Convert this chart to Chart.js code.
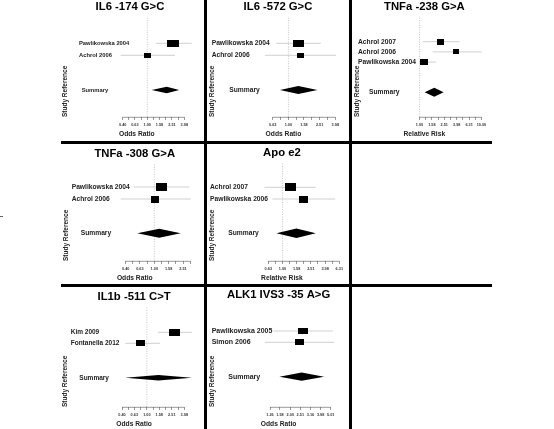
<!DOCTYPE html>
<html><head><meta charset="utf-8">
<script src="https://cdn.jsdelivr.net/npm/chart.js@4.4.1/dist/chart.umd.min.js"></script>
<style>
html,body{margin:0;padding:0;background:#fff;}
body{width:554px;height:429px;position:relative;overflow:hidden;}
canvas{position:absolute;}
.rule{position:absolute;background:#000;z-index:5;}
</style></head><body>
<div class="rule" style="left:203.5px;top:0;width:3px;height:429px"></div>
<div class="rule" style="left:348.5px;top:0;width:3px;height:429px"></div>
<div class="rule" style="left:61px;top:140.5px;width:431px;height:3px"></div>
<div class="rule" style="left:61px;top:284.2px;width:431px;height:3px"></div>
<div class="rule" style="left:0;top:215.5px;width:3px;height:1px;background:#666"></div>
<script>
// ---------- data ----------
const il6_174Studies = ['Pawlikowska 2004', 'Achrol 2006'];
const il6_174OR      = [2.64, 1.00];
const il6_174Lower   = [1.38, 0.37];
const il6_174Upper   = [5.24, 2.81];
const il6_174Weight  = [1.0, 0.57];
const il6_174Summary = [2.06, 1.18, 3.30]; // estimate, lower, upper
const il6_174Ticks   = ['0.40', '0.63', '1.00', '1.58', '2.51', '3.98'];

const il6_572Studies = ['Pawlikowska 2004', 'Achrol 2006'];
const il6_572OR      = [1.36, 1.41];
const il6_572Lower   = [0.70, 0.50];
const il6_572Upper   = [2.59, 4.07];
const il6_572Weight  = [1.0, 0.63];
const il6_572Summary = [1.34, 0.78, 2.35];
const il6_572Ticks   = ['0.63', '1.00', '1.58', '2.51', '3.98'];

const tnfa238Studies = ['Achrol 2007', 'Achrol 2006', 'Pawlikowska 2004'];
const tnfa238RR      = [2.19, 3.89, 1.16];
const tnfa238Lower   = [1.13, 1.63, 0.98];
const tnfa238Upper   = [4.40, 10.0, 1.86];
const tnfa238Weight  = [0.84, 0.69, 1.0];
const tnfa238Summary = [1.73, 1.21, 2.45];
const tnfa238Ticks   = ['1.00', '1.58', '2.51', '3.98', '6.31', '10.00'];

const tnfa308Studies = ['Pawlikowska 2004', 'Achrol 2006'];
const tnfa308OR      = [1.27, 1.02];
const tnfa308Lower   = [0.52, 0.34];
const tnfa308Upper   = [3.07, 3.21];
const tnfa308Weight  = [1.0, 0.78];
const tnfa308Summary = [1.17, 0.58, 2.33];
const tnfa308Ticks   = ['0.40', '0.63', '1.00', '1.58', '2.51'];

const apoe2Studies = ['Achrol 2007', 'Pawlikowska 2006'];
const apoe2RR      = [1.30, 2.00];
const apoe2Lower   = [0.56, 0.72];
const apoe2Upper   = [2.94, 5.52];
const apoe2Weight  = [1.0, 0.85];
const apoe2Summary = [1.57, 0.82, 2.94];
const apoe2Ticks   = ['0.63', '1.00', '1.58', '2.51', '3.98', '6.31'];

const il1bStudies = ['Kim 2009', 'Fontanella 2012'];
const il1bOR      = [2.76, 0.78];
const il1bLower   = [1.50, 0.45];
const il1bUpper   = [5.25, 1.63];
const il1bWeight  = [1.0, 0.82];
const il1bSummary = [1.53, 0.45, 5.25];
const il1bTicks   = ['0.40', '0.63', '1.00', '1.58', '2.51', '3.98'];

const alk1Studies = ['Pawlikowska 2005', 'Simon 2006'];
const alk1OR      = [2.69, 2.49];
const alk1Lower   = [1.38, 1.12];
const alk1Upper   = [5.25, 5.66];
const alk1Weight  = [1.0, 0.9];
const alk1Summary = [2.59, 1.56, 4.31];
const alk1Ticks   = ['1.26', '1.58', '2.00', '2.51', '3.16', '3.98', '5.01'];

// ---------- panel layout / styling ----------
const panels = [
  {title:'IL6 -174 G>C', xTitle:'Odds Ratio', studies:il6_174Studies, est:il6_174OR, lower:il6_174Lower, upper:il6_174Upper, weight:il6_174Weight, summary:il6_174Summary, ticks:il6_174Ticks,
   L:{left:61, top:0, width:138, height:138, fullTitle:true, labelSize:5.8, labelPad:3.4, sumPad:2.03, xAnchor:[0.40,122.7,3.98,184.3], rowFirst:43.3, rowStep:12, gap:2.89, boxW:11.7, boxH:6.7, diamondH:3.3, refLine:true, minor:true, tail:false}},
  {title:'IL6 -572 G>C', xTitle:'Odds Ratio', studies:il6_572Studies, est:il6_572OR, lower:il6_572Lower, upper:il6_572Upper, weight:il6_572Weight, summary:il6_572Summary, ticks:il6_572Ticks,
   L:{left:208, top:0, width:140, height:138, fullTitle:true, labelSize:6.7, labelPad:-1.37, sumPad:5.41, xAnchor:[0.63,272.7,3.98,335.3], rowFirst:43.3, rowStep:12, gap:2.89, boxW:10.7, boxH:6.7, diamondH:4, refLine:true, minor:true, tail:false}},
  {title:'TNFa -238 G>A', xTitle:'Relative Risk', studies:tnfa238Studies, est:tnfa238RR, lower:tnfa238Lower, upper:tnfa238Upper, weight:tnfa238Weight, summary:tnfa238Summary, ticks:tnfa238Ticks,
   L:{left:353, top:0, width:136, height:138, fullTitle:false, labelSize:6.7, labelPad:-0.93, sumPad:3.36, xAnchor:[1.00,419.3,10.0,481], rowFirst:41.7, rowStep:10.2, gap:2.96, boxW:8.3, boxH:6.3, diamondH:4.5, refLine:true, minor:true, tail:false}},
  {title:'TNFa -308 G>A', xTitle:'Odds Ratio', studies:tnfa308Studies, est:tnfa308OR, lower:tnfa308Lower, upper:tnfa308Upper, weight:tnfa308Weight, summary:tnfa308Summary, ticks:tnfa308Ticks,
   L:{left:62, top:147, width:135, height:135, fullTitle:false, labelSize:6.7, labelPad:0.63, sumPad:3.21, xAnchor:[0.40,125.7,1.00,154.3], rowFirst:187, rowStep:12, gap:2.86, boxW:10.7, boxH:7.7, diamondH:4.5, refLine:true, minor:true, tail:true}},
  {title:'Apo e2', xTitle:'Relative Risk', studies:apoe2Studies, est:apoe2RR, lower:apoe2Lower, upper:apoe2Upper, weight:apoe2Weight, summary:apoe2Summary, ticks:apoe2Ticks,
   L:{left:208, top:146, width:138, height:136, fullTitle:false, labelSize:6.7, labelPad:-1.93, sumPad:5.46, xAnchor:[0.63,268.3,6.31,339.3], rowFirst:187.3, rowStep:11.7, gap:2.93, boxW:11, boxH:7.7, diamondH:4.8, refLine:true, minor:true, tail:false}},
  {title:'IL1b -511 C>T', xTitle:'Odds Ratio', studies:il1bStudies, est:il1bOR, lower:il1bLower, upper:il1bUpper, weight:il1bWeight, summary:il1bSummary, ticks:il1bTicks,
   L:{left:61, top:290, width:136, height:138, fullTitle:false, labelSize:6.5, labelPad:0.63, sumPad:3.08, xAnchor:[0.40,122,3.98,184.3], rowFirst:332.3, rowStep:11, gap:3.13, boxW:11, boxH:7, diamondH:2.8, refLine:true, minor:true, tail:false}},
  {title:'ALK1 IVS3 -35 A>G', xTitle:'Odds Ratio', studies:alk1Studies, est:alk1OR, lower:alk1Lower, upper:alk1Upper, weight:alk1Weight, summary:alk1Summary, ticks:alk1Ticks,
   L:{left:208, top:288, width:131, height:140, fullTitle:false, labelSize:7, labelPad:-1.37, sumPad:5.08, xAnchor:[1.26,270,5.01,330.7], rowFirst:331, rowStep:11.3, gap:3.04, boxW:10.3, boxH:6, diamondH:4.2, refLine:false, minor:false, tail:false}}
];

Chart.defaults.font.family = '"Liberation Sans", Arial, Helvetica, sans-serif';
Chart.defaults.color = '#222';

function boxStyle(w, h) {
  const c = document.createElement('canvas');
  c.width = Math.max(2, Math.round(w));
  c.height = Math.max(2, Math.round(h));
  const g = c.getContext('2d');
  g.fillStyle = '#000';
  g.fillRect(0, 0, c.width, c.height);
  return c;
}

function buildTickList(labels, minor, tail) {
  const vals = labels.map(parseFloat);
  const list = [];
  vals.forEach((v, i) => {
    list.push({value: v, label: labels[i]});
    if (minor && i < vals.length - 1) list.push({value: Math.sqrt(v * vals[i + 1]), label: ''});
  });
  if (tail) {
    const n = vals.length;
    list.push({value: vals[n - 1] * Math.sqrt(vals[n - 1] / vals[n - 2]), label: ''});
  }
  return list;
}

// rows are counted downward from the top: study i sits at -(i+1), summary at -(n+gap)
function rowValue(k) { return -k; }

function makePlugin(p, tickList) {
  const L = p.L;
  return {
    id: 'forest',
    beforeDatasetsDraw(chart) {
      if (!L.refLine) return;
      const {ctx, chartArea: a, scales: {x}} = chart;
      const px = x.getPixelForValue(1);
      ctx.save();
      ctx.strokeStyle = '#a0a0a0';
      ctx.lineWidth = 0.6;
      ctx.setLineDash([1, 1.4]);
      ctx.beginPath(); ctx.moveTo(px, a.top); ctx.lineTo(px, a.bottom); ctx.stroke();
      ctx.restore();
    },
    afterDatasetsDraw(chart) {
      const {ctx, chartArea: a, scales: {x, y}} = chart;
      const [est, lo, hi] = p.summary;
      const yc = y.getPixelForValue(rowValue(p.studies.length + L.gap));
      ctx.save();
      ctx.fillStyle = '#000';
      ctx.beginPath();
      ctx.moveTo(x.getPixelForValue(lo), yc);
      ctx.lineTo(x.getPixelForValue(est), yc - L.diamondH);
      ctx.lineTo(x.getPixelForValue(hi), yc);
      ctx.lineTo(x.getPixelForValue(est), yc + L.diamondH);
      ctx.closePath();
      ctx.fill();
      // axis line across the tick range
      ctx.strokeStyle = '#555';
      ctx.lineWidth = 0.6;
      ctx.beginPath();
      ctx.moveTo(x.getPixelForValue(tickList[0].value), a.bottom + 0.3);
      ctx.lineTo(x.getPixelForValue(tickList[tickList.length - 1].value), a.bottom + 0.3);
      ctx.stroke();
      ctx.restore();
    }
  };
}

function fitScales(chart, p) {
  const L = p.L, a = chart.chartArea;
  const left = L.left + a.left, right = L.left + a.right;
  const [v1, p1, v2, p2] = L.xAnchor;
  const k = (p2 - p1) / (Math.log10(v2) - Math.log10(v1));
  chart.options.scales.x.min = Math.pow(10, Math.log10(v1) - (p1 - left) / k);
  chart.options.scales.x.max = Math.pow(10, Math.log10(v1) + (right - p1) / k);
  const top = L.top + a.top, bottom = L.top + a.bottom;
  const ymax = rowValue(1 + (top - L.rowFirst) / L.rowStep);
  const ymin = rowValue(1 + (bottom - L.rowFirst) / L.rowStep);
  ['y', 'ys'].forEach(id => { chart.options.scales[id].min = ymin; chart.options.scales[id].max = ymax; });
  chart.update('none');
}

panels.forEach(p => {
  const L = p.L;
  const cv = document.createElement('canvas');
  cv.width = L.width; cv.height = L.height;
  cv.style.left = L.left + 'px'; cv.style.top = L.top + 'px';
  cv.style.width = L.width + 'px'; cv.style.height = L.height + 'px';
  document.body.appendChild(cv);

  const rows = p.studies.map((_, i) => rowValue(i + 1));
  const sumRow = rowValue(p.studies.length + L.gap);
  const tickList = buildTickList(p.ticks, L.minor, L.tail);

  const datasets = [{
    label: 'Studies',
    data: p.est.map((v, i) => ({x: v, y: rows[i]})),
    pointStyle: p.weight.map(w => boxStyle(L.boxW * w, L.boxH * Math.sqrt(w))),
    pointRadius: 4,
    showLine: false
  }];
  p.studies.forEach((s, i) => datasets.push({
    label: s + ' CI',
    data: [{x: p.lower[i], y: rows[i]}, {x: p.upper[i], y: rows[i]}],
    showLine: true, borderColor: '#c4c4c4', borderWidth: 0.8, pointRadius: 0
  }));

  const yCommon = {
    type: 'linear', position: 'left', bounds: 'data', min: -8, max: 1,
    grid: {display: false, drawTicks: false}, border: {display: false}
  };

  const chart = new Chart(cv, {
    type: 'scatter',
    data: {datasets},
    options: {
      responsive: false, animation: false, events: [],
      layout: {padding: 0},
      plugins: {
        legend: {display: false}, tooltip: {enabled: false},
        title: {display: true, text: p.title, color: '#000', fullSize: L.fullTitle,
                font: {size: 11.3, weight: 'bold'}, padding: {top: 0, bottom: 4}}
      },
      scales: {
        x: {
          type: 'logarithmic', position: 'bottom', bounds: 'data', min: 0.1, max: 10,
          afterBuildTicks: sc => { sc.ticks = tickList.map(t => ({value: t.value})); },
          ticks: {autoSkip: false, maxRotation: 0, minRotation: 0, padding: 2.7, color: '#333',
                  font: {size: 3.8, weight: 'bold'},
                  callback: (v, i) => (tickList[i] ? tickList[i].label : '')},
          grid: {display: true, drawOnChartArea: false, drawTicks: true, tickLength: 3, color: '#555', lineWidth: 0.6},
          border: {display: false},
          title: {display: true, text: p.xTitle, color: '#222', font: {size: 6.7, weight: 'bold'}, padding: 0}
        },
        y: Object.assign({}, yCommon, {
          weight: 1,
          afterBuildTicks: sc => { sc.ticks = rows.map(v => ({value: v})); },
          ticks: {mirror: true, padding: L.labelPad, color: '#222', font: {size: L.labelSize, weight: 'bold'},
                  callback: v => p.studies[Math.round(-v) - 1] || ''},
          title: {display: true, align: 'start', text: 'Study Reference', color: '#222', font: {size: 6.5, weight: 'bold'}, padding: 0}
        }),
        ys: Object.assign({}, yCommon, {
          weight: 0,
          afterBuildTicks: sc => { sc.ticks = [{value: sumRow}]; },
          ticks: {mirror: true, padding: L.sumPad, color: '#222', font: {size: L.labelSize, weight: 'bold'},
                  callback: () => 'Summary'},
          title: {display: false}
        })
      }
    },
    plugins: [makePlugin(p, tickList)]
  });
  for (let i = 0; i < 3; i++) fitScales(chart, p);
});
</script>
</body></html>
